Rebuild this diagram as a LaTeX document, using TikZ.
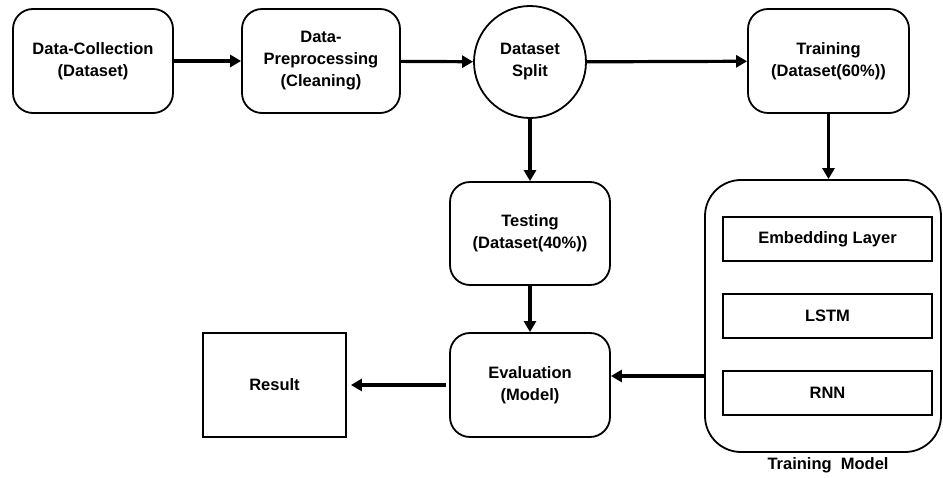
\documentclass[tikz,border=0pt]{standalone}
\usepackage{fontspec}
\setmainfont{Liberation Sans}
\usetikzlibrary{arrows.meta}
\begin{document}
\begin{tikzpicture}[x=1pt,y=-1pt,
  lbl/.style={font=\fontsize{16.5}{22}\selectfont\bfseries},
  stage/.style={lbl, draw, line width=1.8pt, rounded corners=20pt,
    minimum width=160pt, minimum height=104pt, align=center, inner sep=0pt},
  splitnode/.style={lbl, draw, line width=1.8pt, circle, minimum size=112pt,
    align=center, inner sep=0pt},
  plainbox/.style={lbl, draw, line width=1.8pt, minimum width=143pt,
    minimum height=104pt, inner sep=0pt},
  layer/.style={lbl, draw, line width=1.8pt, minimum width=209pt,
    minimum height=44pt, inner sep=0pt},
  group/.style={draw, line width=1.8pt, rounded corners=36pt,
    minimum width=236pt, minimum height=272pt, inner sep=0pt},
  flow/.style={line width=3.2pt, -{Triangle[length=11pt,width=12pt]}}
]
\useasboundingbox (0,0) rectangle (943,478);

% top row
\node[stage] (collect) at (93,61) {Data-Collection\\(Dataset)};
\node[stage, minimum width=158pt] (prep) at (321,61) {Data-\\Preprocessing\\(Cleaning)};
\node[splitnode] (split) at (530,62) {Dataset\\Split};
\node[stage, minimum width=161pt] (train) at (828.5,61) {Training\\(Dataset(60\%))};

% middle column
\node[stage, minimum height=103pt] (test) at (530,233.5) {Testing\\(Dataset(40\%))};
\node[stage] (eval) at (530,385) {Evaluation\\(Model)};
\node[plainbox] (result) at (274.5,385) {Result};

% model block
\node[group] (model) at (823,316) {};
\node[layer] (embed) at (827.5,239) {Embedding Layer};
\node[layer] (lstm) at (827.5,316) {LSTM};
\node[layer] (rnn) at (827.5,393) {RNN};
\node[lbl, anchor=center] (modelname) at (828,465) {Training\ \ Model};

% connectors
\coordinate (lvl) at (0,376);
\draw[flow] (collect) -- (prep);
\draw[flow] (prep) -- (split);
\draw[flow] (split) -- (train);
\draw[flow] (split) -- (test);
\draw[flow] (train.south) -- (train.south |- model.north);
\draw[flow] (test) -- (eval);
\draw[flow] (model.west |- lvl) -- (eval.east |- lvl);
\draw[flow, shorten <=3pt, shorten >=4pt] (eval) -- (result);
\end{tikzpicture}
\end{document}
